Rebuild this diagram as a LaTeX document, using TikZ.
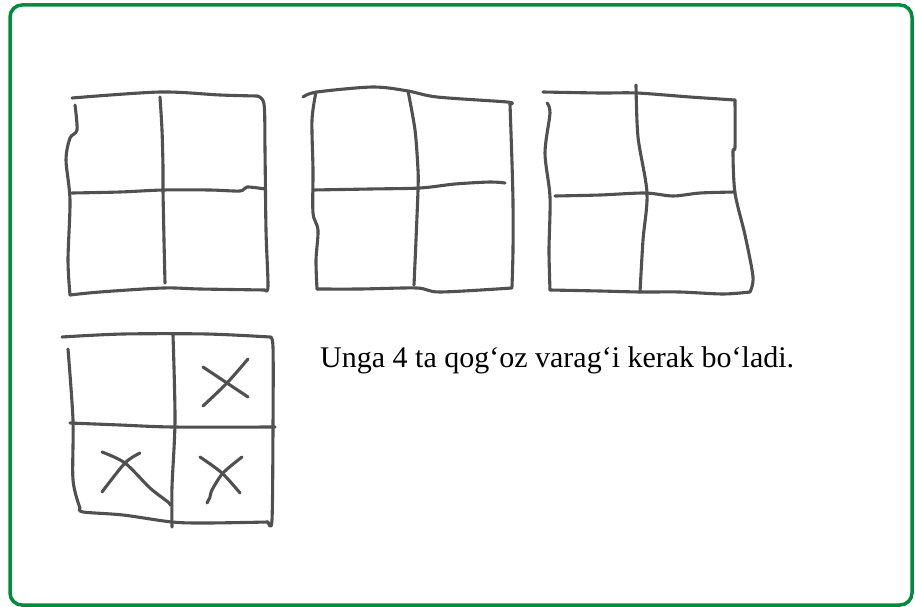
\documentclass[tikz,border=0pt]{standalone}
\usepackage{fontspec}
\setmainfont{Liberation Serif}
\usepackage{tikz}
\usetikzlibrary{positioning}

\definecolor{ramka}{RGB}{0,140,60}
\definecolor{qalam}{RGB}{80,80,80}

\begin{document}
\begin{tikzpicture}[x=1pt, y=-1pt,
    chiziq/.style={draw=qalam, line width=3.1pt, line cap=round, line join=round}]
        \useasboundingbox (0,0) rectangle (915,607);
        % Ramka
        \draw[ramka, line width=3.5pt, rounded corners=12pt] (10,5) rectangle (912,605);

        % 1-kvadrat
        \draw[chiziq] plot[smooth, tension=0.5] coordinates {(72,98) (160,92) (220,95) (257,96)};
        \draw[chiziq] plot[smooth, tension=0.5] coordinates {(257,96) (264,104) (265,150) (266,230) (268,286) (265,290)};
        \draw[chiziq] plot[smooth, tension=0.5] coordinates {(265,290) (200,289) (163,288) (100,292) (70,295)};
        \draw[chiziq] plot[smooth, tension=0.5] coordinates {(75,105) (77,130) (70,138) (66,160) (70,200) (68,260) (70,295)};
        \draw[chiziq] plot[smooth, tension=0.5] coordinates {(160,97) (162,130) (163,167) (163,190) (164,240) (165,283)};
        \draw[chiziq] plot[smooth, tension=0.5] coordinates {(72,193) (120,192) (163,190) (210,190) (240,191) (247,187) (265,189)};

        % 2-kvadrat
        \draw[chiziq] plot[smooth, tension=0.5] coordinates {(303,97) (317,92) (373,87) (408,91) (437,97) (507,102) (510,104)};
        \draw[chiziq] plot[smooth, tension=0.5] coordinates {(510,104) (512,163) (513,203) (513,250) (512,287)};
        \draw[chiziq] plot[smooth, tension=0.5] coordinates {(512,288) (440,292) (417,288) (360,289) (317,289)};
        \draw[chiziq] plot[smooth, tension=0.5] coordinates {(316,92) (312,120) (313,170) (313,213) (318,230) (316,260) (317,289)};
        \draw[chiziq] plot[smooth, tension=0.5] coordinates {(408,91) (415,130) (418,170) (418,190) (416,240) (414,285)};
        \draw[chiziq] plot[smooth, tension=0.5] coordinates {(313,190) (370,189) (420,188) (455,184) (490,182) (505,183)};

        % 3-kvadrat
        \draw[chiziq] plot[smooth, tension=0.5] coordinates {(543,92) (600,93) (637,93) (690,97) (735,100)};
        \draw[chiziq] plot[smooth, tension=0.5] coordinates {(735,100) (735,147) (733,152) (735,193) (745,235) (753,277) (750,292)};
        \draw[chiziq] plot[smooth, tension=0.5] coordinates {(750,292) (723,294) (680,292) (640,292) (600,291) (550,290)};
        \draw[chiziq] plot[smooth, tension=0.5] coordinates {(547,103) (550,113) (545,153) (550,197) (549,250) (550,290)};
        \draw[chiziq] plot[smooth, tension=0.5] coordinates {(636,85) (638,137) (647,193) (643,240) (640,292)};
        \draw[chiziq] plot[smooth, tension=0.5] coordinates {(555,196) (600,195) (645,193) (673,196) (700,193) (735,192)};

        % 4-kvadrat (belgilangan qismlar)
        \draw[chiziq] plot[smooth, tension=0.5] coordinates {(62,337) (123,334) (207,334) (270,337)};
        \draw[chiziq] plot[smooth, tension=0.5] coordinates {(270,337) (273,347) (273,427) (272,520) (268,522)};
        \draw[chiziq] plot[smooth, tension=0.5] coordinates {(268,522) (207,523) (172,522) (123,515) (83,512) (80,508)};
        \draw[chiziq] plot[smooth, tension=0.5] coordinates {(68,349) (73,420) (73,480) (80,508)};
        \draw[chiziq] plot[smooth, tension=0.5] coordinates {(173,335) (175,420) (172,487) (172,527)};
        \draw[chiziq] plot[smooth, tension=0.5] coordinates {(70,423) (120,425) (173,427) (275,427)};
        % belgilar
        \draw[chiziq] plot[smooth, tension=0.5] coordinates {(203,406) (227,383) (248,359)};
        \draw[chiziq] plot[smooth, tension=0.5] coordinates {(203,367) (227,383) (248,397)};
        \draw[chiziq] plot[smooth, tension=0.5] coordinates {(102,492) (125,463) (140,453)};
        \draw[chiziq] plot[smooth, tension=0.5] coordinates {(102,452) (125,463) (150,488) (168,502) (170,505)};
        \draw[chiziq] plot[smooth, tension=0.5] coordinates {(200,457) (222,473) (240,493)};
        \draw[chiziq] plot[smooth, tension=0.5] coordinates {(242,457) (223,473) (212,490) (210,497) (207,503)};

        % Matn
        \node[anchor=base west, inner sep=0pt, font=\fontsize{30}{36}\selectfont] (javob) at (320,367)
            {Unga 4 ta qog‘oz varag‘i kerak bo‘ladi.};
\end{tikzpicture}
\end{document}
